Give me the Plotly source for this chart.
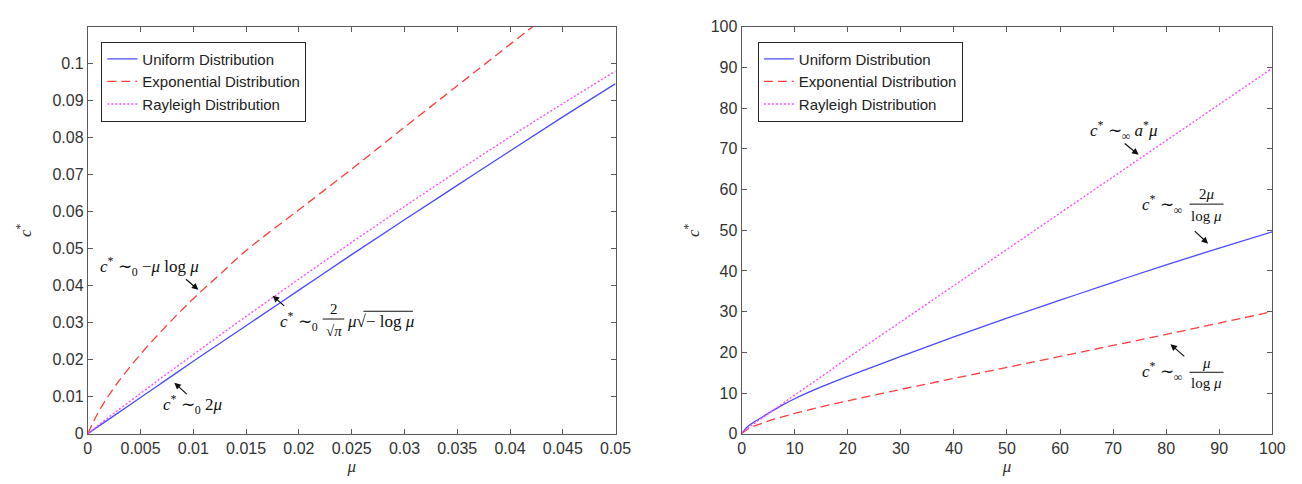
import plotly.graph_objects as go

# ---------------- data ----------------
mu_small = [0, 0.001, 0.0025, 0.005, 0.0075, 0.01, 0.0125, 0.015, 0.02, 0.025, 0.03, 0.035, 0.04, 0.045, 0.05]
uniform_small = [0, 0.0020, 0.0049, 0.0098, 0.0147, 0.0196, 0.0244, 0.0292, 0.0388, 0.0484, 0.0578, 0.0671, 0.0764, 0.0856, 0.0946]
expo_small = [0, 0.0058, 0.0125, 0.0215, 0.0293, 0.0365, 0.0430, 0.0495, 0.0605, 0.0715, 0.0828, 0.0940, 0.1052, 0.1163, 0.1275]
rayleigh_small = [0, 0.0023, 0.0056, 0.0109, 0.0162, 0.0214, 0.0266, 0.0317, 0.0418, 0.0517, 0.0614, 0.0709, 0.0802, 0.0892, 0.0980]

mu_large = [0, 1, 2, 3, 5, 7.5, 10, 15, 20, 30, 40, 50, 60, 70, 80, 90, 100]
uniform_large = [0, 1.6, 2.6, 3.4, 5.0, 6.9, 8.6, 11.5, 14.1, 19.0, 23.8, 28.4, 32.8, 37.2, 41.5, 45.6, 49.6]
expo_large = [0, 1.0, 1.7, 2.2, 3.1, 4.1, 5.0, 6.6, 8.1, 10.9, 13.6, 16.3, 19.0, 21.7, 24.4, 27.2, 30.0]
rayleigh_large = [0, 1.2, 2.2, 3.1, 4.9, 7.2, 9.5, 14.0, 18.6, 27.5, 36.4, 45.3, 54.2, 63.1, 72.0, 80.9, 89.8]

series_names = ["Uniform Distribution", "Exponential Distribution", "Rayleigh Distribution"]

x_small_ticks = [0, 0.005, 0.01, 0.015, 0.02, 0.025, 0.03, 0.035, 0.04, 0.045, 0.05]
x_small_labels = ["0", "0.005", "0.01", "0.015", "0.02", "0.025", "0.03", "0.035", "0.04", "0.045", "0.05"]
y_small_ticks = [0, 0.01, 0.02, 0.03, 0.04, 0.05, 0.06, 0.07, 0.08, 0.09, 0.1]
y_small_labels = ["0", "0.01", "0.02", "0.03", "0.04", "0.05", "0.06", "0.07", "0.08", "0.09", "0.1"]
large_ticks = [0, 10, 20, 30, 40, 50, 60, 70, 80, 90, 100]
large_labels = [str(v) for v in large_ticks]

# ---------------- style ----------------
BLUE = "#4a4aff"
RED = "#ff3c3c"
MAGENTA = "#ff4dff"
AXIS = "#5a5a5a"
TXT = "#333333"
SANS = "Liberation Sans, Arial, sans-serif"
SERIF = "Liberation Serif, Times New Roman, serif"

styles = [
    dict(color=BLUE, width=1.3, dash="solid"),
    dict(color=RED, width=1.3, dash="9px,5px"),
    dict(color=MAGENTA, width=1.4, dash="2px,2px"),
]

fig = go.Figure()

for name, ys, st in zip(series_names, [uniform_small, expo_small, rayleigh_small], styles):
    fig.add_trace(go.Scatter(x=mu_small, y=ys, mode="lines", name=name, line=st,
                             xaxis="x", yaxis="y", legend="legend", line_shape="spline"))
for name, ys, st in zip(series_names, [uniform_large, expo_large, rayleigh_large], styles):
    fig.add_trace(go.Scatter(x=mu_large, y=ys, mode="lines", name=name, line=st,
                             xaxis="x2", yaxis="y2", legend="legend2", line_shape="spline"))

axis_common = dict(
    showline=True, linecolor=AXIS, linewidth=1, mirror="allticks",
    ticks="inside", ticklen=5, tickcolor=AXIS, tickwidth=1,
    showgrid=False, zeroline=False,
    tickfont=dict(family=SANS, size=16, color=TXT),
)

ydom = [0.1054, 0.9773]
fig.update_layout(
    width=1302, height=484,
    margin=dict(l=0, r=0, t=0, b=0),
    paper_bgcolor="white", plot_bgcolor="white",
    xaxis=dict(domain=[0.0591, 0.4708], range=[0, 0.05], anchor="y",
               tickvals=x_small_ticks, ticktext=x_small_labels,
               title=dict(text="<i>μ</i>", font=dict(family=SERIF, size=17, color=TXT), standoff=4),
               **axis_common),
    yaxis=dict(domain=ydom, range=[0, 0.11], anchor="x",
               tickvals=y_small_ticks, ticktext=y_small_labels,
               title=dict(text="<i>c</i><sup>*</sup>", font=dict(family=SERIF, size=17, color=TXT), standoff=16),
               **axis_common),
    xaxis2=dict(domain=[0.5691, 0.9831], range=[0, 100], anchor="y2",
                tickvals=large_ticks, ticktext=large_labels,
                title=dict(text="<i>μ</i>", font=dict(family=SERIF, size=17, color=TXT), standoff=4),
                **axis_common),
    yaxis2=dict(domain=ydom, range=[0, 100], anchor="x2",
                tickvals=large_ticks, ticktext=large_labels,
                title=dict(text="<i>c</i><sup>*</sup>", font=dict(family=SERIF, size=17, color=TXT), standoff=6),
                **axis_common),
    legend=dict(x=0.0697, y=0.945, xanchor="left", yanchor="top",
                bgcolor="white", bordercolor="#262626", borderwidth=1,
                font=dict(family=SANS, size=15, color="#222222"),
                tracegroupgap=0, itemwidth=30),
    legend2=dict(x=0.5818, y=0.945, xanchor="left", yanchor="top",
                 bgcolor="white", bordercolor="#262626", borderwidth=1,
                 font=dict(family=SANS, size=15, color="#222222"),
                 tracegroupgap=0, itemwidth=30),
    showlegend=True,
)

ann = []
shapes = []
MF = dict(family=SERIF, size=17, color="#111111")
SF = dict(family=SERIF, size=15, color="#111111")

def text(x, y, s, xr, yr, font=MF, xanchor="left"):
    ann.append(dict(x=x, y=y, xref=xr, yref=yr, text=s, showarrow=False,
                    xanchor=xanchor, yanchor="middle", font=font))

def arrow(xh, yh, xt, yt, xr, yr):
    ann.append(dict(x=xh, y=yh, xref=xr, yref=yr, ax=xt, ay=yt, axref=xr, ayref=yr,
                    text="", showarrow=True, arrowhead=2, arrowsize=1.1, arrowwidth=1.2,
                    arrowcolor="#111111", standoff=0, startstandoff=0))

def bar(x0, x1, y, xr, yr):
    shapes.append(dict(type="line", x0=x0, x1=x1, y0=y, y1=y, xref=xr, yref=yr,
                       line=dict(color="#111111", width=1)))

C0 = "<i>c</i><sup>*</sup> ∼<sub>0</sub>"
CI = "<i>c</i><sup>*</sup> ∼<sub>∞</sub>"

# left plot annotations
text(0.00099, 0.0451, C0 + " −<i>μ</i> log <i>μ</i>", "x", "y")
arrow(0.01048, 0.0389, 0.00916, 0.0421, "x", "y")

text(0.01804, 0.0303, C0, "x", "y")
text(0.02330, 0.0336, "2", "x", "y", font=SF, xanchor="center")
bar(0.02225, 0.02430, 0.0310, "x", "y")
text(0.02330, 0.0279, "√<i>π</i>", "x", "y", font=SF, xanchor="center")
text(0.02440, 0.0303, "<i>μ</i>√− log <i>μ</i>", "x", "y")
bar(0.02612, 0.03080, 0.0331, "x", "y")
arrow(0.01751, 0.0373, 0.01875, 0.0342, "x", "y")

text(0.00690, 0.0078, C0 + " 2<i>μ</i>", "x", "y")
arrow(0.0082, 0.0138, 0.00952, 0.01035, "x", "y")

# right plot annotations
text(65.2, 74.6, CI + " <i>a</i><sup>*</sup><i>μ</i>", "x2", "y2")
arrow(74.8, 68.5, 71.9, 71.6, "x2", "y2")

text(75.1, 56.4, CI, "x2", "y2")
text(87.6, 59.0, "2<i>μ</i>", "x2", "y2", font=SF, xanchor="center")
bar(84.4, 90.8, 56.4, "x2", "y2")
text(87.6, 53.5, "log <i>μ</i>", "x2", "y2", font=SF, xanchor="center")
arrow(87.9, 46.7, 85.1, 50.1, "x2", "y2")

text(75.1, 15.3, CI, "x2", "y2")
text(87.6, 17.5, "<i>μ</i>", "x2", "y2", font=SF, xanchor="center")
bar(84.4, 90.8, 15.1, "x2", "y2")
text(87.6, 12.4, "log <i>μ</i>", "x2", "y2", font=SF, xanchor="center")
arrow(80.8, 22.0, 83.7, 18.7, "x2", "y2")

fig.update_layout(annotations=ann, shapes=shapes)

fig.write_html("out.html")
